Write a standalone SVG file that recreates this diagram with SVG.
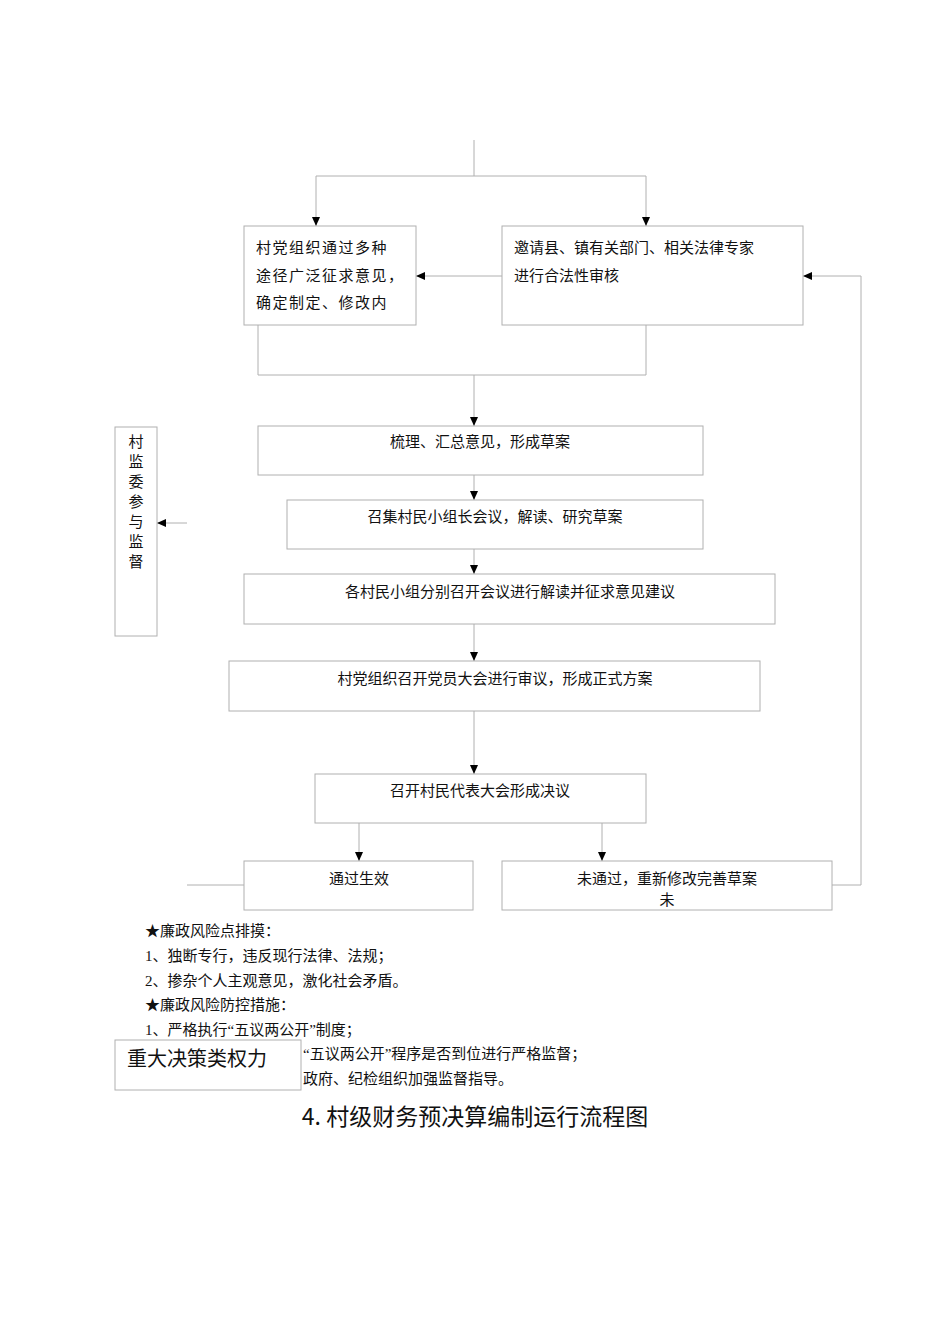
<svg xmlns="http://www.w3.org/2000/svg" width="950" height="1344" viewBox="0 0 950 1344">
<style>
.b{fill:#fff;stroke:#b0b0b0;stroke-width:1}
.l{fill:none;stroke:#b0b0b0;stroke-width:1}
.a{fill:none;stroke:#b0b0b0;stroke-width:1;marker-end:url(#m)}
text{font-family:"Liberation Serif","Noto Sans CJK SC",serif;font-size:15px;fill:#111}
.c{text-anchor:middle}
</style>
<defs><marker id="m" markerWidth="10" markerHeight="10" refX="9" refY="5" orient="auto" markerUnits="userSpaceOnUse"><path d="M0,1 L9,5 L0,9 Z" fill="#000"/></marker></defs>
<rect width="950" height="1344" fill="#fff"/>
<g id="connectors">
<path class="l" d="M474,140 V176 M316,176 H646"/>
<path class="a" d="M316,176 V226"/>
<path class="a" d="M646,176 V226"/>
<path class="a" d="M502,276 H416"/>
<path class="a" d="M832,885 H861 V276 H803"/>
<path class="l" d="M258,325 V375 H646 V325"/>
<path class="a" d="M474,375 V426"/>
<path class="a" d="M474,475 V500"/>
<path class="a" d="M474,549 V574"/>
<path class="a" d="M474,624 V661"/>
<path class="a" d="M474,711 V774"/>
<path class="a" d="M359,823 V861"/>
<path class="a" d="M602,823 V861"/>
<path class="l" d="M187,885 H244"/>
<path class="a" d="M187,523 H157"/>
</g>
<g id="nA"><rect class="b" x="244" y="226" width="172" height="99"/>
<text x="256" y="253" letter-spacing="1.5">村党组织通过多种</text><text x="256" y="281" letter-spacing="1.5">途径广泛征求意见，</text><text x="256" y="308" letter-spacing="1.5">确定制定、修改内</text></g>
<g id="nB"><rect class="b" x="502" y="226" width="301" height="99"/>
<text x="514" y="253">邀请县、镇有关部门、相关法律专家</text><text x="514" y="281">进行合法性审核</text></g>
<g id="n1"><rect class="b" x="258" y="426" width="445" height="49"/><text class="c" x="480" y="447">梳理、汇总意见，形成草案</text></g>
<g id="n2"><rect class="b" x="287" y="500" width="416" height="49"/><text class="c" x="495" y="522">召集村民小组长会议，解读、研究草案</text></g>
<g id="n3"><rect class="b" x="244" y="574" width="531" height="50"/><text class="c" x="510" y="597">各村民小组分别召开会议进行解读并征求意见建议</text></g>
<g id="n4"><rect class="b" x="229" y="661" width="531" height="50"/><text class="c" x="495" y="684">村党组织召开党员大会进行审议，形成正式方案</text></g>
<g id="n5"><rect class="b" x="315" y="774" width="331" height="49"/><text class="c" x="480" y="796">召开村民代表大会形成决议</text></g>
<g id="n6"><rect class="b" x="244" y="861" width="229" height="49"/><text class="c" x="359" y="884">通过生效</text></g>
<g id="n7"><rect class="b" x="502" y="861" width="330" height="49"/><text class="c" x="667" y="884">未通过，重新修改完善草案</text><text class="c" x="667" y="905">未</text></g>
<g id="nS"><rect class="b" x="115" y="427" width="42" height="209"/>
<text class="c" x="136" y="447">村</text><text class="c" x="136" y="467">监</text><text class="c" x="136" y="487">委</text><text class="c" x="136" y="507">参</text><text class="c" x="136" y="527">与</text><text class="c" x="136" y="547">监</text><text class="c" x="136" y="567">督</text></g>
<g id="notes">
<text x="145" y="936">★廉政风险点排摸：</text>
<text x="145" y="961">1、独断专行，违反现行法律、法规；</text>
<text x="145" y="986">2、掺杂个人主观意见，激化社会矛盾。</text>
<text x="145" y="1010">★廉政风险防控措施：</text>
<text x="145" y="1035">1、严格执行“五议两公开”制度；</text>
<text x="303" y="1059">“五议两公开”程序是否到位进行严格监督；</text>
<text x="303" y="1084">政府、纪检组织加强监督指导。</text>
</g>
<g id="nT"><rect class="b" x="115" y="1040" width="186" height="50"/>
<text x="127" y="1066" style="font-family:'Noto Sans CJK SC',sans-serif;font-size:20px">重大决策类权力</text></g>
<text class="c" x="475" y="1125" style="font-family:'Noto Sans CJK SC',sans-serif;font-size:23px">4. 村级财务预决算编制运行流程图</text>
</svg>
